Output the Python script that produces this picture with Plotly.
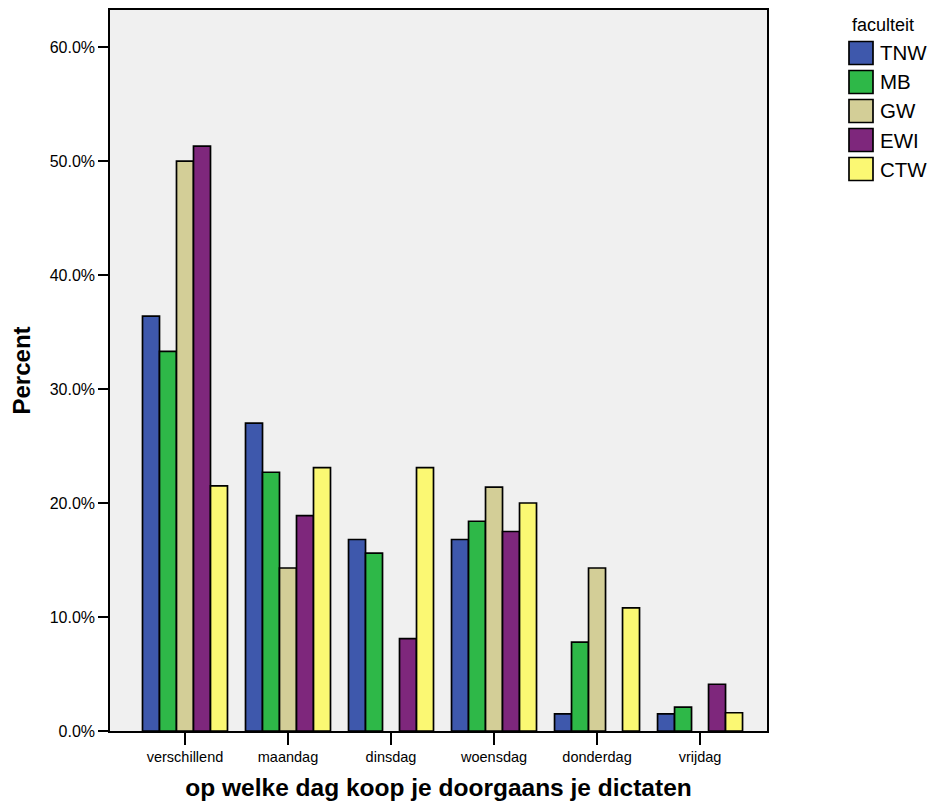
import plotly.graph_objects as go

categories = ["verschillend", "maandag", "dinsdag", "woensdag", "donderdag", "vrijdag"]
series_names = ["TNW", "MB", "GW", "EWI", "CTW"]
tnw = [36.4, 27.0, 16.8, 16.8, 1.5, 1.5]
mb = [33.3, 22.7, 15.6, 18.4, 7.8, 2.1]
gw = [50.0, 14.3, None, 21.4, 14.3, None]
ewi = [51.3, 18.9, 8.1, 17.5, None, 4.1]
ctw = [21.5, 23.1, 23.1, 20.0, 10.8, 1.6]
y_tick_values = [0, 10, 20, 30, 40, 50, 60]
y_tick_labels = ["0.0%", "10.0%", "20.0%", "30.0%", "40.0%", "50.0%", "60.0%"]

series_values = [tnw, mb, gw, ewi, ctw]
colors = ["#3E58AC", "#2EB848", "#D3CE97", "#7E277C", "#FBF873"]
FONT = "Arial, 'Liberation Sans', sans-serif"

fig = go.Figure()
for name, vals, col in zip(series_names, series_values, colors):
    fig.add_trace(go.Bar(
        x=categories, y=vals, name=name,
        marker=dict(color=col, line=dict(color="black", width=1.7)),
        showlegend=False,
    ))

# Custom legend (large swatches) built from the series list.
# Page coords: plot area spans x 110..767, y 10..731 (page has an 8px body margin).
PX0, PW, PY0, PH = 110, 657, 10, 721
leg_top = 53
leg_step = 29
for i, (name, col) in enumerate(zip(series_names, colors)):
    yc = leg_top + i * leg_step
    fig.add_shape(type="rect", xref="paper", yref="paper",
                  x0=(849 - PX0) / PW, x1=(873 - PX0) / PW,
                  y0=1 - (yc - 11.5 - PY0) / PH, y1=1 - (yc + 11.5 - PY0) / PH,
                  fillcolor=col, line=dict(color="black", width=1.7), layer="above")
    fig.add_annotation(xref="paper", yref="paper",
                       x=(878 - PX0) / PW, y=1 - (yc - PY0) / PH,
                       text=name, showarrow=False, xanchor="left", yanchor="middle",
                       font=dict(family=FONT, size=20.5, color="black"))
fig.add_annotation(xref="paper", yref="paper",
                   x=(850 - PX0) / PW, y=1 - (25 - PY0) / PH,
                   text="faculteit", showarrow=False, xanchor="left", yanchor="middle",
                   font=dict(family=FONT, size=18, color="black"))

fig.update_layout(
    width=920, height=793,
    margin=dict(l=102, r=161, t=2, b=70),
    paper_bgcolor="white", plot_bgcolor="#F0F0F0",
    barmode="group", bargap=0.175, bargroupgap=0,
    font=dict(family=FONT, color="black"),
    showlegend=False,
)
fig.update_xaxes(
    type="category", categoryorder="array", categoryarray=categories,
    range=[-0.728, 5.65], automargin=False,
    showline=True, linecolor="black", linewidth=1.5, mirror=True,
    ticks="outside", ticklen=12, tickcolor="black", tickwidth=1.5,
    tickfont=dict(family=FONT, size=14.5),
    showgrid=False,
    title=dict(text="<b>op welke dag koop je doorgaans je dictaten</b>",
               font=dict(family=FONT, size=24.5), standoff=27),
)
fig.update_yaxes(
    range=[0, 63.25], automargin=False,
    tickvals=y_tick_values, ticktext=y_tick_labels,
    showline=True, linecolor="black", linewidth=1.5, mirror=True,
    ticks="outside", ticklen=10, tickcolor="black", tickwidth=1.5,
    tickfont=dict(family=FONT, size=16),
    showgrid=False, zeroline=False,
    title=dict(text="<b>Percent</b>", font=dict(family=FONT, size=24), standoff=13),
)

fig.write_html("out.html", config={"displayModeBar": False})
